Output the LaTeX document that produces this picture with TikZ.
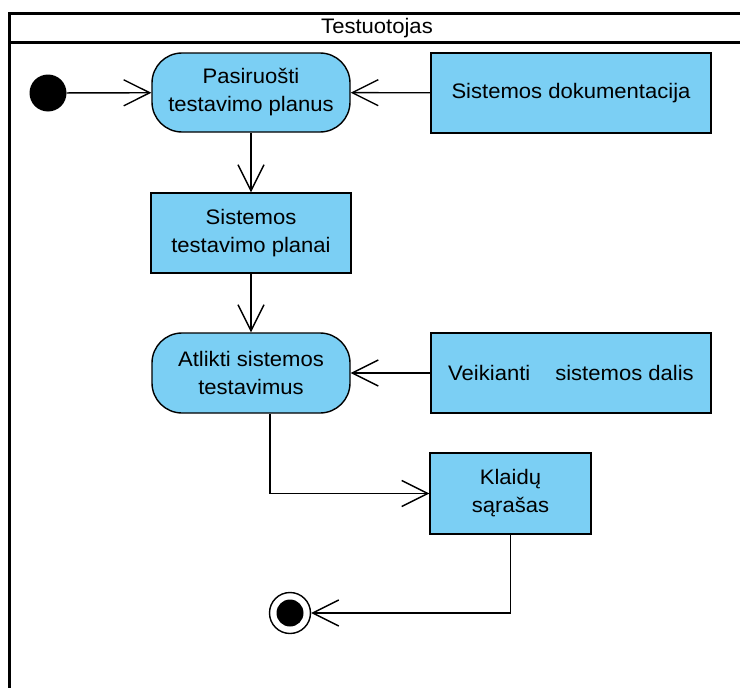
\documentclass[tikz,border=0pt]{standalone}
\usepackage{fontspec}
\setmainfont{Liberation Sans}[FakeStretch=1.05]
\usetikzlibrary{arrows.meta}
\definecolor{actfill}{RGB}{123,207,244}
\tikzset{
  every node/.style={font=\fontsize{21}{28}\selectfont, align=center, inner sep=0pt},
  lane/.style={line width=3pt, line cap=rect},
  actbox/.style={draw, line width=1.4pt, fill=actfill, rounded corners=30pt},
  objbox/.style={draw, line width=1.4pt, fill=actfill},
  flow/.style={draw, line width=1.4pt, -{Straight Barb[length=26pt,width=26pt,line width=1.4pt]}},
  startdot/.style={circle, fill=black, minimum size=37pt},
  enddot/.style={circle, draw, line width=1.4pt, fill=white, minimum size=41pt},
}
\begin{document}
\begin{tikzpicture}[x=1pt, y=-1pt]
\useasboundingbox (0,0) rectangle (740,688);
% swimlane frame and header
\draw[lane] (760,13) -- (9,13) -- (9,720);
\draw[lane] (9,42) -- (760,42);
\node (lanetitle) at (377,28) {Testuotojas};

% initial node
\node[startdot] (start) at (48,93) {};

% actions and objects
\node[actbox, minimum width=198pt, minimum height=79pt] (prep) at (251,92.5) {Pasiruošti\\testavimo planus};
\node[objbox, minimum width=280pt, minimum height=80pt] (doc) at (571,93) {Sistemos dokumentacija};
\node[objbox, minimum width=200pt, minimum height=80pt] (plans) at (251,233) {Sistemos\\testavimo planai};
\node[actbox, minimum width=198pt, minimum height=80pt] (run) at (251,373) {Atlikti sistemos\\testavimus};
\node[objbox, minimum width=280pt, minimum height=80pt] (live) at (571,373) {Veikianti\hspace{25pt}sistemos dalis};
\node[objbox, minimum width=161pt, minimum height=81pt] (errs) at (510.5,493.5) {Klaidų\\sąrašas};

% final node
\node[enddot] (end) at (290,613) {};
\fill (end.center) circle (13.5pt);

% control and object flows
\draw[flow] (start) -- (prep);
\draw[flow] (doc) -- (prep);
\draw[flow] (prep) -- (plans);
\draw[flow] (plans) -- (run);
\draw[flow] (live) -- (run);
\draw[flow] ([xshift=19pt]run.south) |- (errs.west);
\draw[flow] (errs.south) |- (end);
\end{tikzpicture}
\end{document}
